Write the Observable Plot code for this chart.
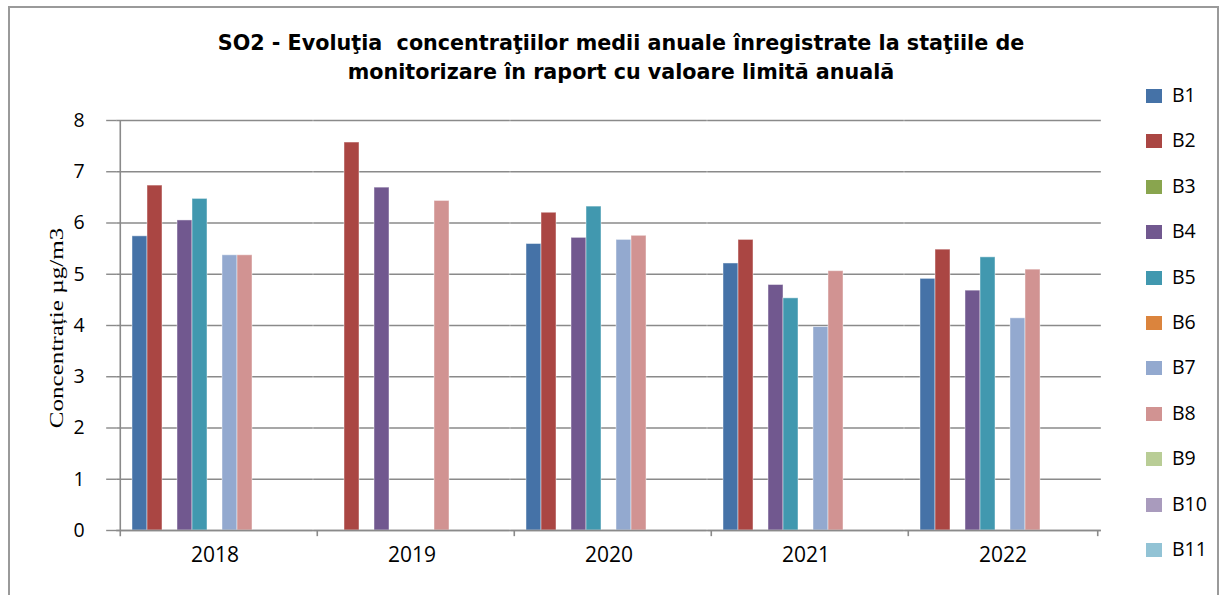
<!DOCTYPE html>
<html>
<head>
<meta charset="utf-8">
<script src="https://cdn.jsdelivr.net/npm/d3@7"></script>
<script src="https://cdn.jsdelivr.net/npm/@observablehq/plot@0.6"></script>
<style>
  html, body { margin: 0; padding: 0; background: #fff; }
  #wrap { position: relative; width: 1224px; height: 595px; overflow: hidden; background: #fff; }
  #border { position: absolute; left: 8px; top: 6px; width: 1211px; height: 620px; border: 2px solid #9a9a9a; box-sizing: border-box; pointer-events: none; }
  #title { position: absolute; left: 0; top: 29px; width: 1242px; text-align: center; font-family: "DejaVu Sans", Verdana, sans-serif; font-weight: bold; font-size: 20.7px; line-height: 29px; color: #000; }
  #ylabel { position: absolute; left: 57px; top: 328px; transform: translate(-50%, -50%) rotate(-90deg) scaleX(1.32); white-space: nowrap; font-family: "Liberation Serif", "Times New Roman", serif; font-size: 19px; color: #000; }
  #legend { position: absolute; left: 1146px; top: 0; }
  .li { position: absolute; left: 0; height: 20px; white-space: nowrap; font-family: "Open Sans", sans-serif; font-size: 19.5px; color: #000; }
  .sw { position: absolute; left: 0; top: 3px; width: 16px; height: 14px; }
  .lt { position: absolute; left: 26px; top: -4px; line-height: 26px; }
  #chart { position: absolute; left: 0; top: 0; }
</style>
</head>
<body>
<div id="wrap">
  <div id="chart"></div>
  <div id="title"></div>
  <div id="ylabel"></div>
  <div id="legend"></div>
  <div id="border"></div>
</div>
<script>
// ---- data ----
const titleLines = [
  "SO2 - Evoluţia  concentraţiilor medii anuale înregistrate la staţiile de",
  "monitorizare în raport cu valoare limită anuală"
];
const yLabel = "Concentrație µg/m3";
const years = ["2018", "2019", "2020", "2021", "2022"];
const series = ["B1", "B2", "B3", "B4", "B5", "B6", "B7", "B8", "B9", "B10", "B11"];
const colors = ["#4572A7", "#AA4643", "#89A54E", "#71588F", "#4198AF", "#DB843D", "#93A9CF", "#D19392", "#B9CD96", "#A99BBD", "#92C3D5"];
const yTicks = [0, 1, 2, 3, 4, 5, 6, 7, 8];

const B1  = [5.74, null, 5.59, 5.21, 4.91];
const B2  = [6.73, 7.57, 6.20, 5.67, 5.48];
const B3  = [null, null, null, null, null];
const B4  = [6.05, 6.69, 5.71, 4.79, 4.68];
const B5  = [6.47, null, 6.32, 4.53, 5.33];
const B6  = [null, null, null, null, null];
const B7  = [5.37, null, 5.67, 3.97, 4.14];
const B8  = [5.37, 6.43, 5.75, 5.06, 5.09];
const B9  = [null, null, null, null, null];
const B10 = [null, null, null, null, null];
const B11 = [null, null, null, null, null];
const values = {B1, B2, B3, B4, B5, B6, B7, B8, B9, B10, B11};

const rows = [];
years.forEach((yr, i) => series.forEach(s => {
  const v = values[s][i];
  if (v != null) rows.push({year: yr, series: s, value: v});
}));

// ---- layout ----
const W = 1224, H = 595;
const mL = 116, mR = 1224 - 1102, mT = 120, mB = 595 - 530;
const innerW = W - mL - mR;
const pIn = 0.12, pOut = 0.06;
const step = innerW / (years.length - pIn + 2 * pOut);
const gapHalf = pOut * step;
const halfBar = (step * (1 - pIn)) / series.length / 2;

const boundaries = years.map((yr, i) => ({year: yr, top: i === 0 ? 8 : 0}));
const gridColor = "#8a8a8a";

const chart = Plot.plot({
  width: W,
  height: H,
  marginLeft: mL,
  marginRight: mR,
  marginTop: mT,
  marginBottom: mB,
  style: {background: "transparent", color: "#000", fontFamily: "'Open Sans', sans-serif"},
  fx: {domain: years, paddingInner: pIn, paddingOuter: pOut, label: null},
  x: {domain: series, padding: 0, axis: null},
  y: {domain: [0, 8], axis: null},
  color: {domain: series, range: colors},
  marks: [
    Plot.ruleY(yTicks, {stroke: gridColor, strokeWidth: 1.4, insetLeft: -gapHalf, insetRight: -gapHalf}),
    Plot.barY(rows, {fx: "year", x: "series", y: "value", fill: "series", stroke: "#fff", strokeOpacity: 0.45, strokeWidth: 1}),
    Plot.ruleY([0], {stroke: gridColor, strokeWidth: 1.6, insetLeft: -gapHalf, insetRight: -gapHalf}),
    Plot.ruleX(boundaries, {fx: "year", x: () => "B1", y1: "top", y2: () => -0.12, dx: -(halfBar + gapHalf), stroke: gridColor, strokeWidth: 1.6}),
    Plot.ruleX([{year: years[years.length - 1]}], {fx: "year", x: () => "B11", y1: 0, y2: () => -0.12, dx: halfBar + gapHalf, stroke: gridColor, strokeWidth: 1.6}),
    Plot.axisY({ticks: yTicks, tickSize: 10, tickPadding: 22, dx: -gapHalf, label: null, fontSize: 19.5, stroke: gridColor, strokeWidth: 1.4, tickFormat: d => String(d)}),
    Plot.axisFx({anchor: "bottom", tickSize: 0, tickPadding: 17, label: null, fontSize: 21})
  ]
});
document.getElementById("chart").appendChild(chart);

// ---- title, y label, legend ----
document.getElementById("title").innerHTML = titleLines.map(t => `<div>${t.replace(/  /g, " &nbsp;")}</div>`).join("");
document.getElementById("ylabel").textContent = yLabel;
const legend = document.getElementById("legend");
series.forEach((s, i) => {
  const it = document.createElement("div");
  it.className = "li";
  it.style.top = (86 + i * 45.4) + "px";
  it.innerHTML = `<div class="sw" style="background:${colors[i]}"></div><div class="lt">${s}</div>`;
  legend.appendChild(it);
});
</script>
</body>
</html>
